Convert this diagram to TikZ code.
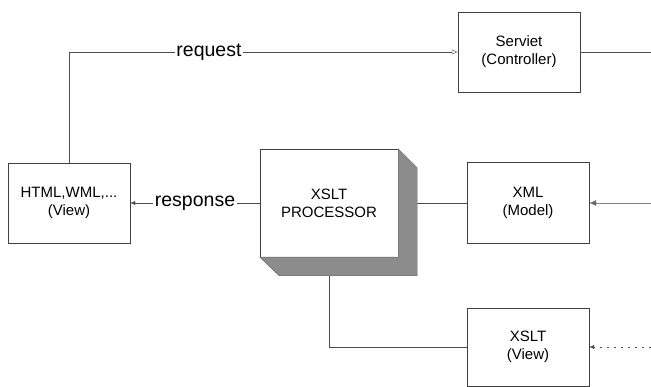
\documentclass[tikz,border=0pt]{standalone}
\usepackage{fontspec}
\setmainfont{Liberation Sans}
\usetikzlibrary{positioning,arrows.meta}
\tikzset{>={Latex[length=5pt,width=4pt]}}

\begin{document}
\begin{tikzpicture}[x=1pt, y=-1pt,
  box/.style={draw=black!75, thin, minimum width=122pt, minimum height=80pt, align=center, font=\fontsize{15}{18}\selectfont},
  lab/.style={fill=white, inner sep=1.5pt, font=\fontsize{19.5}{22}\selectfont},
  wire/.style={draw=black!70, thin}]
\useasboundingbox (0,0) rectangle (651,387);
\node[box] (view) at (69,203) {HTML,WML,...\\(View)};
\node[box] (ctl) at (519,52) {Serviet\\(Controller)};
\node[box, minimum width=138pt, minimum height=108pt] (proc) at (329,203) {XSLT\\PROCESSOR};
\node[box, minimum height=81pt] (xml) at (528,203) {XML\\(Model)};
\node[box, minimum height=78pt] (xsl) at (528,347) {XSLT\\(View)};
\coordinate (ctlout) at (651,52);
\coordinate (xmlin) at (651,203);
\coordinate (xslin) at (651,347);
\draw[wire, -{Latex[open,length=6pt,width=5pt]}] (view.north) |- node[lab, pos=0.68] {request} (ctl.west);
\draw[wire] (ctl.east) -- (ctlout);
\draw[wire, ->] (proc.west) -- node[lab] {response} (view.east);
\draw[wire] (proc.east) -- (xml.west);
\draw[wire] (proc.south) |- (xsl.west);
\draw[wire, draw=black!50, -{Latex[length=7pt,width=6pt,fill=black!60]}] (xmlin) -- (xml.east);
\draw[wire, dash pattern=on 2pt off 5pt, ->] (xslin) -- (xsl.east);
% bevel of the processor box
\filldraw[fill=black!45, draw=black!60] (proc.north east) -- ++(19,19) -- ++(0,108) -- ++(-138,0) -- (proc.south west) -- (proc.south east) -- cycle;
\end{tikzpicture}
\end{document}
